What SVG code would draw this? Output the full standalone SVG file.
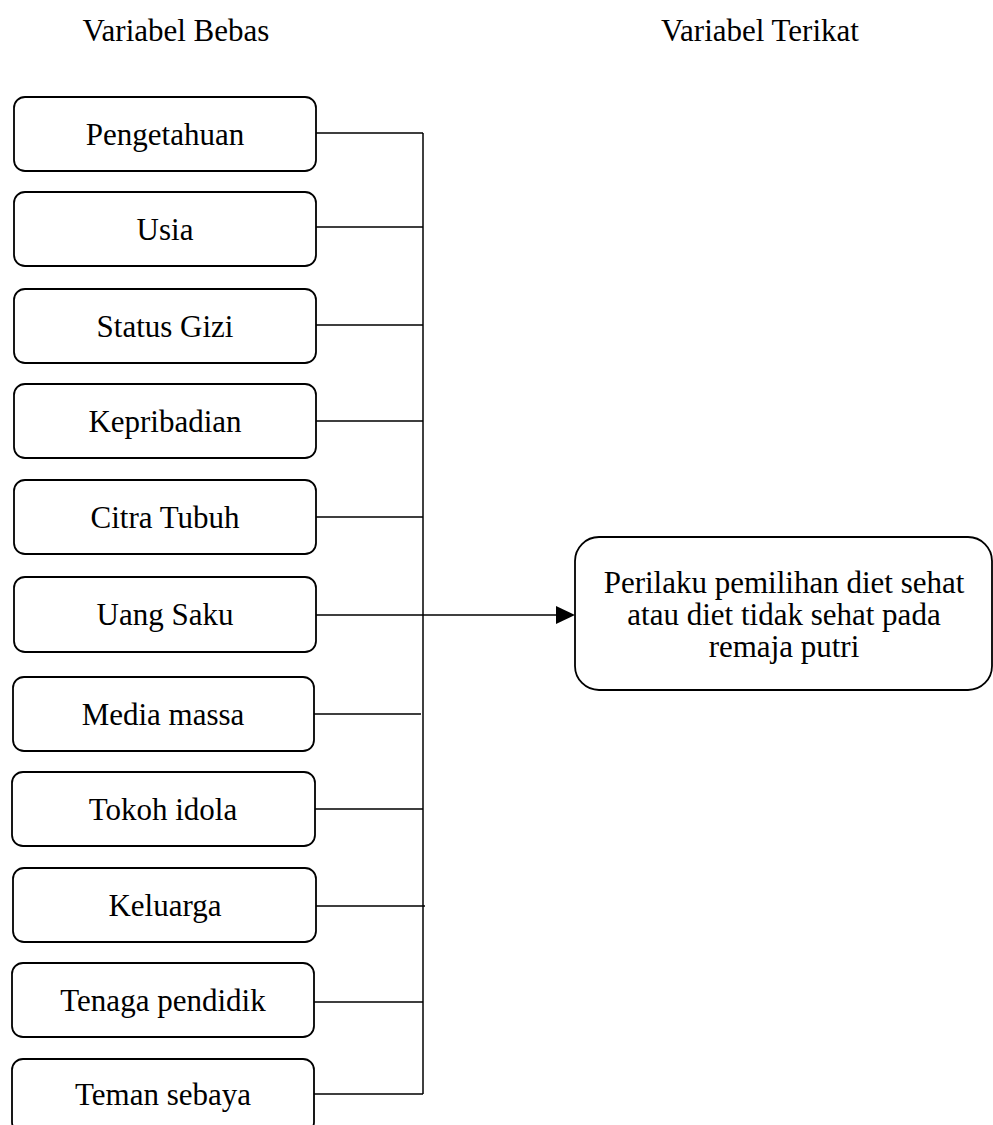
<svg xmlns="http://www.w3.org/2000/svg" width="993" height="1125" viewBox="0 0 993 1125">
<style>
.box{fill:#fff;stroke:#000;stroke-width:1.8}
.t{font-family:"Liberation Serif","Times New Roman",serif;font-size:31px;fill:#000;text-anchor:middle}
.ln{stroke:#000;stroke-width:1.5;fill:none}
</style>
<rect width="993" height="1125" fill="#fff"/>
<text class="t" x="176" y="41">Variabel Bebas</text>
<text class="t" x="760" y="41">Variabel Terikat</text>
<g id="connectors">
<path class="ln" d="M316 133H423M316 227H423M316 325H423M316 421H423M316 517H423M316 615H423M314 714H421M315 809H423M316 906H425M314 1002H423M314 1094H423"/>
<path class="ln" d="M423 133V1094"/>
<path class="ln" d="M423 615H557"/>
<polygon points="556,606 575,615 556,624" fill="#000"/>
</g>
<g id="n1"><rect class="box" x="14" y="97" width="302" height="74" rx="11"/><text class="t" x="165" y="145">Pengetahuan</text></g>
<g id="n2"><rect class="box" x="14" y="192" width="302" height="74" rx="11"/><text class="t" x="165" y="240">Usia</text></g>
<g id="n3"><rect class="box" x="14" y="289" width="302" height="74" rx="11"/><text class="t" x="165" y="337">Status Gizi</text></g>
<g id="n4"><rect class="box" x="14" y="384" width="302" height="74" rx="11"/><text class="t" x="165" y="432">Kepribadian</text></g>
<g id="n5"><rect class="box" x="14" y="480" width="302" height="74" rx="11"/><text class="t" x="165" y="528">Citra Tubuh</text></g>
<g id="n6"><rect class="box" x="14" y="577" width="302" height="75" rx="11"/><text class="t" x="165" y="625">Uang Saku</text></g>
<g id="n7"><rect class="box" x="13" y="677" width="301" height="74" rx="11"/><text class="t" x="163" y="725">Media massa</text></g>
<g id="n8"><rect class="box" x="12" y="772" width="303" height="74" rx="11"/><text class="t" x="163" y="820">Tokoh idola</text></g>
<g id="n9"><rect class="box" x="13" y="868" width="303" height="74" rx="11"/><text class="t" x="165" y="916">Keluarga</text></g>
<g id="n10"><rect class="box" x="12" y="963" width="302" height="74" rx="11"/><text class="t" x="163" y="1011">Tenaga pendidik</text></g>
<g id="n11"><rect class="box" x="12" y="1059" width="302" height="74" rx="11"/><text class="t" x="163" y="1105">Teman sebaya</text></g>
<g id="target"><rect class="box" x="575" y="537" width="417" height="153" rx="24"/>
<text class="t" x="784" y="593">Perilaku pemilihan diet sehat</text>
<text class="t" x="784" y="625">atau diet tidak sehat pada</text>
<text class="t" x="784" y="657">remaja putri</text></g>
</svg>
